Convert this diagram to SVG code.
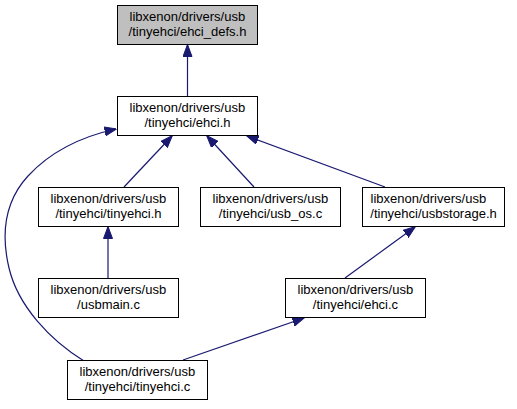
<svg xmlns="http://www.w3.org/2000/svg" width="517" height="409" viewBox="0 0 517 409">
<style>
.n rect{fill:#ffffff;stroke:#000000;stroke-width:1}
.n.sel rect{fill:#bfbfbf}
.n text{font-family:"Liberation Sans",Arial,Helvetica,sans-serif;font-size:13px;fill:#000000}
.e path{fill:none;stroke:#191970;stroke-width:1.2}
</style>
<defs>
<marker id="ah" viewBox="0 0 12 10" refX="11.5" refY="5" markerWidth="12" markerHeight="10" markerUnits="userSpaceOnUse" orient="auto">
<polygon points="0,0.5 12,5 0,9.5" fill="#191970" stroke="#191970" stroke-width="1"/>
</marker>
</defs>
<rect width="517" height="409" fill="#ffffff"/>
<g id="edges" class="e">
<path d="M187.5,96 L187.5,45" marker-end="url(#ah)"/>
<path d="M124,187 L172,136" marker-end="url(#ah)"/>
<path d="M254,187 L207,136" marker-end="url(#ah)"/>
<path d="M385,187 L247,136" marker-end="url(#ah)"/>
<path d="M84,361 C50,340 18,306 9,268 C0,230 6,200 28,176 C52,150 84,136 116,129" marker-end="url(#ah)"/>
<path d="M108,278 L108,227" marker-end="url(#ah)"/>
<path d="M345,278 L415,227" marker-end="url(#ah)"/>
<path d="M183,360 L304,318" marker-end="url(#ah)"/>
</g>
<g id="node_ehci_defs" class="n sel">
<rect x="117.5" y="5.5" width="140" height="39"/>
<text x="129.5" y="20.5">libxenon/drivers/usb</text>
<text x="187.5" y="35.5" text-anchor="middle">/tinyehci/ehci_defs.h</text>
</g>
<g id="node_ehci_h" class="n">
<rect x="117.5" y="96.5" width="140" height="39"/>
<text x="129.5" y="111.5">libxenon/drivers/usb</text>
<text x="187.5" y="126.5" text-anchor="middle">/tinyehci/ehci.h</text>
</g>
<g id="node_tinyehci_h" class="n">
<rect x="38.5" y="187.5" width="140" height="39"/>
<text x="50.5" y="202.5">libxenon/drivers/usb</text>
<text x="108.5" y="217.5" text-anchor="middle">/tinyehci/tinyehci.h</text>
</g>
<g id="node_usb_os" class="n">
<rect x="200.5" y="187.5" width="140" height="39"/>
<text x="212.5" y="202.5">libxenon/drivers/usb</text>
<text x="270.5" y="217.5" text-anchor="middle">/tinyehci/usb_os.c</text>
</g>
<g id="node_usbstorage" class="n">
<rect x="362.5" y="187.5" width="142" height="39"/>
<text x="370.5" y="202.5">libxenon/drivers/usb</text>
<text x="433.5" y="217.5" text-anchor="middle">/tinyehci/usbstorage.h</text>
</g>
<g id="node_usbmain" class="n">
<rect x="38.5" y="278.5" width="140" height="39"/>
<text x="50.5" y="293.5">libxenon/drivers/usb</text>
<text x="108.5" y="308.5" text-anchor="middle">/usbmain.c</text>
</g>
<g id="node_ehci_c" class="n">
<rect x="285.5" y="278.5" width="140" height="39"/>
<text x="297.5" y="293.5">libxenon/drivers/usb</text>
<text x="355.5" y="308.5" text-anchor="middle">/tinyehci/ehci.c</text>
</g>
<g id="node_tinyehci_c" class="n">
<rect x="67.5" y="360.5" width="140" height="39"/>
<text x="79.5" y="375.5">libxenon/drivers/usb</text>
<text x="137.5" y="390.5" text-anchor="middle">/tinyehci/tinyehci.c</text>
</g>
</svg>
